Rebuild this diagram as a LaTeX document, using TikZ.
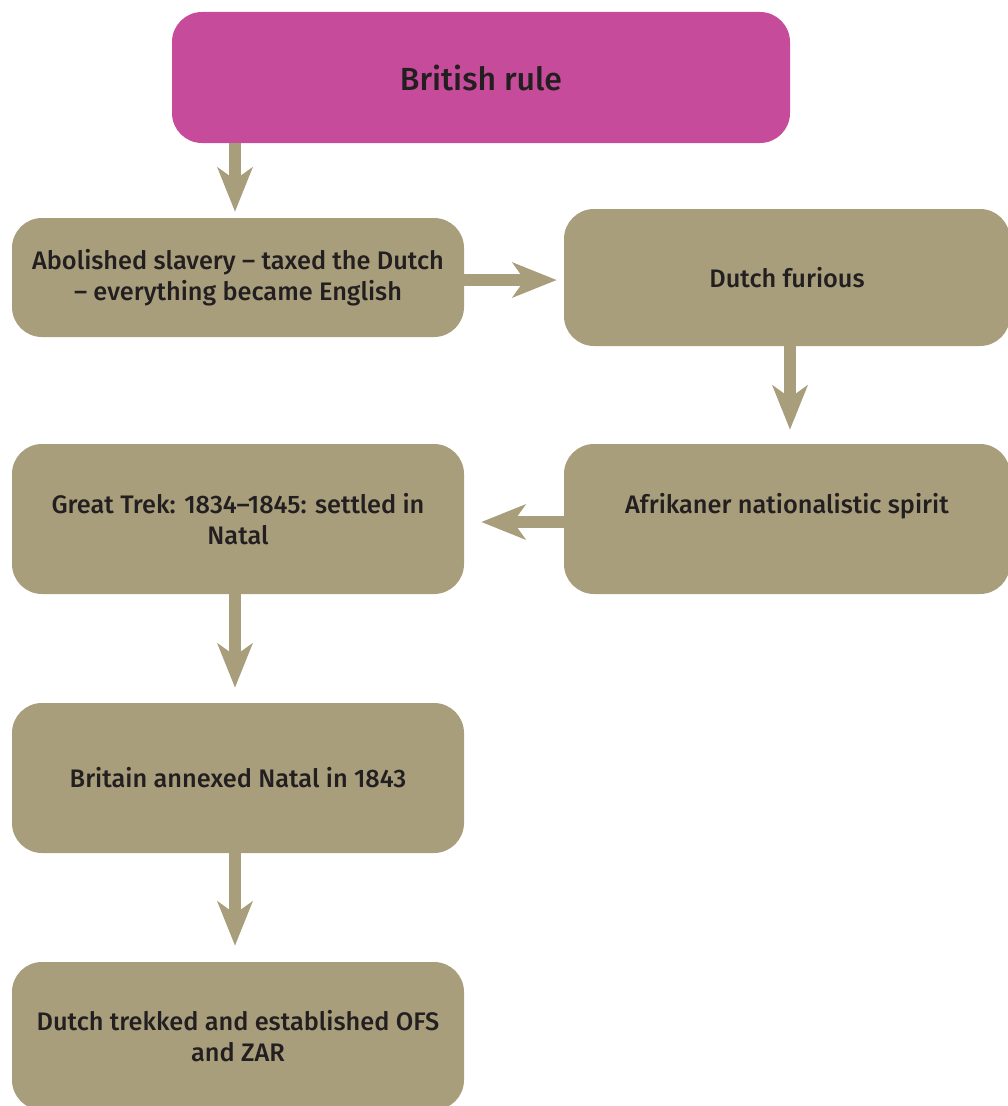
\documentclass[tikz,border=0pt]{standalone}
\usepackage{fontspec}
\setmainfont{Fira Sans Medium}
\usetikzlibrary{arrows.meta}
\definecolor{rulepink}{HTML}{C64B9A}
\definecolor{stepfill}{HTML}{A89E7C}
\definecolor{ink}{HTML}{231F20}
\tikzset{
  x=0.75pt, y=-0.75pt,
  boxbase/.style={rounded corners=22.5pt, inner sep=0pt, align=center,
    text=ink, font=\fontsize{19}{23.5}\selectfont},
  headbox/.style={boxbase, fill=rulepink, font=\fontsize{24}{29}\selectfont,
    minimum width=463.5pt, minimum height=98.25pt},
  stepbox/.style={boxbase, fill=stepfill},
  flow/.style={draw=stepfill, line width=9pt,
    -{Stealth[length=33pt, width=26pt, inset=9pt]}}
}
\begin{document}
\begin{tikzpicture}
\useasboundingbox (0,0) rectangle (1007,1106);
% boxes
\node[headbox] (brit) at (481,77.5) {British rule};
\node[stepbox, minimum width=339pt, minimum height=89.25pt] (abol) at (238,277.5)
  {Abolished slavery -- taxed the Dutch\\ -- everything became English};
\node[stepbox, minimum width=334.5pt, minimum height=102.75pt] (fur) at (787,277.5)
  {Dutch furious};
\node[stepbox, minimum width=334.5pt, minimum height=112.5pt,
  text height=14pt, text depth=22pt] (afr) at (787,519)
  {Afrikaner nationalistic spirit};
\node[stepbox, minimum width=339pt, minimum height=112.5pt] (trek) at (238,519)
  {Great Trek: 1834--1845: settled in\\ Natal};
\node[stepbox, minimum width=339pt, minimum height=112.5pt] (annex) at (238,778)
  {Britain annexed Natal in 1843};
\node[stepbox, minimum width=339pt, minimum height=111pt] (ofs) at (238,1036)
  {Dutch trekked and established OFS\\ and ZAR};
% connectors
\draw[flow] ([xshift=-2.25pt]brit.south -| abol.north) -- ([xshift=-2.25pt,yshift=4.5pt]abol.north);
\draw[flow] ([yshift=-1.9pt]abol.east) -- ([xshift=-5.25pt,yshift=-1.9pt]abol.east -| fur.west);
\draw[flow] ([xshift=2.25pt]fur.south) -- ([xshift=2.25pt,yshift=10.5pt]fur.north |- afr.north);
\draw[flow] ([yshift=-2.25pt]afr.west) -- ([xshift=12.75pt,yshift=-2.25pt]trek.east);
\draw[flow] ([xshift=-2.25pt]trek.south) -- ([xshift=-2.25pt,yshift=11.25pt]annex.north);
\draw[flow] ([xshift=-2.25pt]annex.south) -- ([xshift=-2.25pt,yshift=12pt]ofs.north);
\end{tikzpicture}
\end{document}
